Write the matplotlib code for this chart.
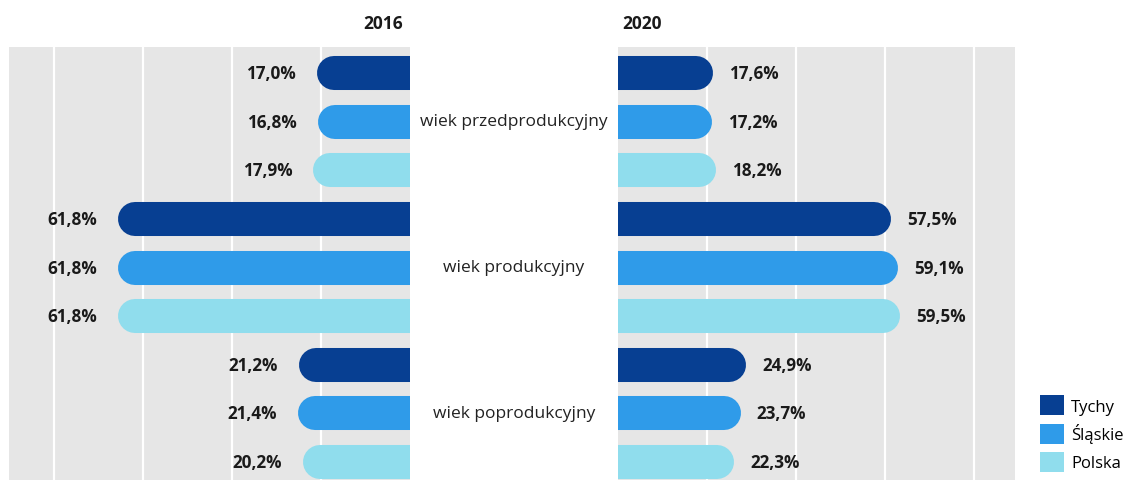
import matplotlib
matplotlib.use("Agg")
import matplotlib.pyplot as plt
from matplotlib.patches import Patch

# dane
groups = ["wiek przedprodukcyjny", "wiek produkcyjny", "wiek poprodukcyjny"]
regions = ["Tychy", "Śląskie", "Polska"]
colors = ["#073f92", "#2f9be9", "#90dded"]
v2016 = [[17.0, 16.8, 17.9], [61.8, 61.8, 61.8], [21.2, 21.4, 20.2]]
v2020 = [[17.6, 17.2, 18.2], [57.5, 59.1, 59.5], [24.9, 23.7, 22.3]]
grid_ticks = [20, 40, 60, 80]

plt.rcParams["font.family"] = ["Open Sans", "DejaVu Sans"]
W, H = 1126, 481
fig = plt.figure(figsize=(W / 100, H / 100), dpi=100)
fig.patch.set_facecolor("white")

def px_axes(x0, x1, y0, y1):
    return fig.add_axes([x0 / W, 1 - y1 / H, (x1 - x0) / W, (y1 - y0) / H])

ax_l = px_axes(9, 410, 48, 481)
ax_r = px_axes(618, 1015, 48, 481)

bar_lw = 24.5
for ax, vals, side in [(ax_l, v2016, "left"), (ax_r, v2020, "right")]:
    ax.set_facecolor("#e6e6e6")
    for t in grid_ticks:
        ax.axvline(t, color="white", lw=1.6, zorder=1)
    row = 0
    for g in range(3):
        for k in range(3):
            v = vals[g][k]
            ax.plot([0, v], [row, row], color=colors[k], lw=bar_lw,
                    solid_capstyle="round", zorder=2)
            lbl = f"{v:.1f}%".replace(".", ",")
            if side == "left":
                ax.annotate(lbl, (v, row), xytext=(-38, 0), textcoords="offset pixels",
                            ha="right", va="center", fontsize=12.3, fontweight="bold",
                            color="#1a1a1a")
            else:
                ax.annotate(lbl, (v, row), xytext=(33, 0), textcoords="offset pixels",
                            ha="left", va="center", fontsize=12.3, fontweight="bold",
                            color="#1a1a1a")
            row += 1
    ax.set_ylim(8.37, -0.535)
    ax.set_xticks([])
    ax.set_yticks([])
    for s in ax.spines.values():
        s.set_visible(False)

ax_l.set_xlim(90, 0)
ax_r.set_xlim(0, 397 / 401 * 90)

# etykiety grup
for g, name in enumerate(groups):
    y = 1 - (122 + g * 146) / H
    fig.text(514 / W, y, name, ha="center", va="center", fontsize=12.5, color="#222222")

fig.text(403 / W, 1 - 24 / H, "2016", ha="right", va="center", fontsize=12.5,
         fontweight="bold", color="#1a1a1a")
fig.text(622 / W, 1 - 24 / H, "2020", ha="left", va="center", fontsize=12.5,
         fontweight="bold", color="#1a1a1a")

handles = [Patch(facecolor=c, edgecolor="none") for c in colors]
fig.legend(handles, regions, loc="lower left", bbox_to_anchor=(1026 / W, -6 / H),
           frameon=False, fontsize=12, handlelength=1.45, handleheight=1.45,
           handletextpad=0.4, labelspacing=0.5, borderpad=0.35)

fig.savefig("out.png", dpi=100, facecolor="white")
